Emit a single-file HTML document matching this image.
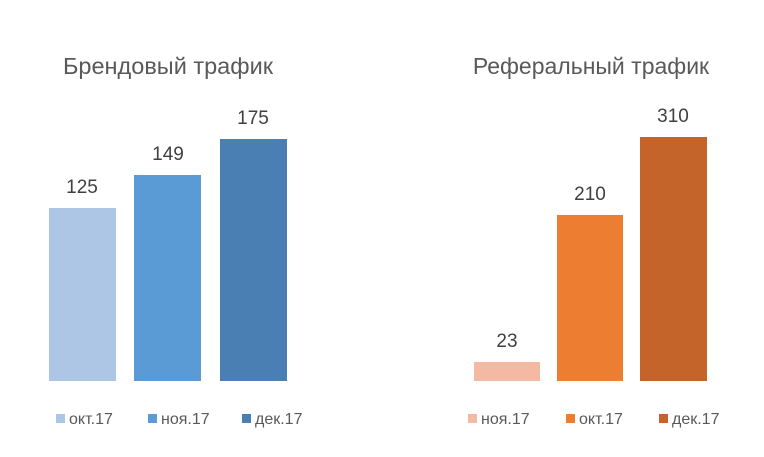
<!DOCTYPE html>
<html><head><meta charset="utf-8"><style>
body{margin:0;width:764px;height:457px;background:#fff;position:relative;font-family:"Liberation Sans",sans-serif;overflow:hidden}
.a{position:absolute}
.t{position:absolute;font-size:23.5px;color:#595959;white-space:nowrap;transform:translateX(-50%)}
.v{position:absolute;font-size:19px;color:#404040;transform:translateX(-50%)}
.l{position:absolute;font-size:16px;color:#595959;top:411px;white-space:nowrap}
.l i{display:inline-block;width:9px;height:9px;margin-right:4px;vertical-align:1px}
</style></head><body>
<div class="t" style="left:168px;top:53px">Брендовый трафик</div>
<div class="t" style="left:591px;top:53px;font-size:23px">Реферальный трафик</div>

<div class="a" style="left:49px;top:208px;width:67px;height:173px;background:#adc6e6"></div>
<div class="a" style="left:134px;top:175px;width:67px;height:206px;background:#5b9bd5"></div>
<div class="a" style="left:220px;top:139px;width:67px;height:242px;background:#4a7fb3"></div>
<div class="v" style="left:82px;top:177px">125</div>
<div class="v" style="left:168px;top:144px">149</div>
<div class="v" style="left:253px;top:108px">175</div>

<div class="a" style="left:474px;top:362px;width:66px;height:19px;background:#f4b9a2"></div>
<div class="a" style="left:557px;top:215px;width:66px;height:166px;background:#ed7d31"></div>
<div class="a" style="left:640px;top:137px;width:67px;height:244px;background:#c4642a"></div>
<div class="v" style="left:507px;top:331px">23</div>
<div class="v" style="left:590px;top:184px">210</div>
<div class="v" style="left:673px;top:106px">310</div>

<div class="l" style="left:56px"><i style="background:#adc6e6"></i>окт.17</div>
<div class="l" style="left:148px"><i style="background:#5b9bd5"></i>ноя.17</div>
<div class="l" style="left:242px"><i style="background:#4a7fb3"></i>дек.17</div>
<div class="l" style="left:468px"><i style="background:#f4b9a2"></i>ноя.17</div>
<div class="l" style="left:566px"><i style="background:#ed7d31"></i>окт.17</div>
<div class="l" style="left:659px"><i style="background:#c4642a"></i>дек.17</div>
</body></html>
